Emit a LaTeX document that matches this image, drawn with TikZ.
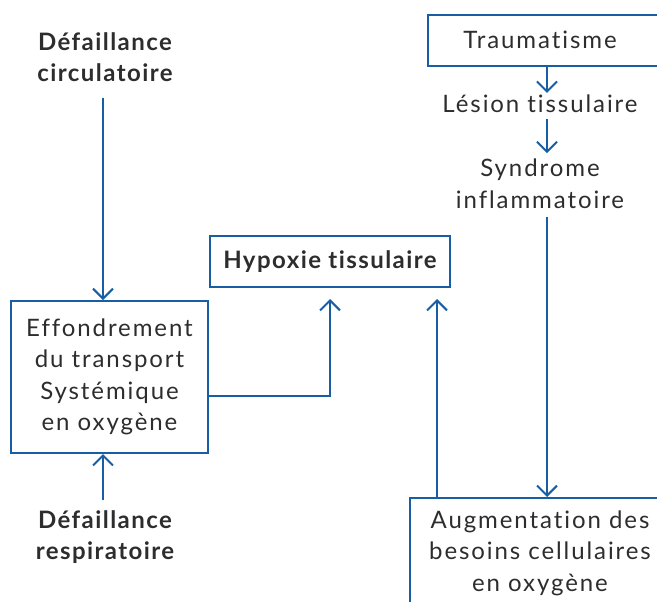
\documentclass[tikz,border=0pt]{standalone}
\usepackage{fontspec}
\setmainfont{Lato}[LetterSpace=8, Ligatures=NoCommon, BoldFeatures={LetterSpace=6}]
\usetikzlibrary{arrows.meta}
\definecolor{cblue}{RGB}{24,94,164}
\definecolor{ctext}{RGB}{45,45,45}
\begin{document}
\begin{tikzpicture}[x=1pt,y=-1pt,
  box/.style={draw=cblue, line width=2pt, inner sep=0pt},
  txt/.style={text=ctext, font=\fontsize{24}{31.5}\selectfont, align=center, inner sep=0pt},
  btxt/.style={text=ctext, font=\bfseries\fontsize{24}{31.5}\selectfont, align=center, inner sep=0pt},
  arr/.style={draw=cblue, line width=2pt, -{Straight Barb[length=10pt,width=20pt]}}]
\useasboundingbox (0,0) rectangle (657,602);
\clip (0,0) rectangle (657,602);
% coordinates for connector alignment
\coordinate (xl) at (103,0);
\coordinate (xr) at (547,0);
\coordinate (xa) at (437,0);
\coordinate (xh) at (330,0);
\coordinate (yh) at (0,396);
% nodes
\node[btxt] (dc) at (105,57) {Défaillance\\circulatoire};
\node[box, minimum width=197pt, minimum height=152pt, txt] (eff) at (109.5,377) {Effondrement\\du transport\\Systémique\\en oxygène};
\node[btxt] (dr) at (105,537) {Défaillance\\respiratoire};
\node[box, minimum width=240pt, minimum height=51pt, btxt] (hyp) at (330,261.5) {Hypoxie tissulaire};
\node[box, minimum width=260pt, minimum height=51pt, anchor=north west] (trb) at (427,14) {};
\node[txt] (tr) at (540,40) {Traumatisme};
\node[txt] (les) at (540,104) {Lésion tissulaire};
\node[txt] (syn) at (540,184) {Syndrome\\inflammatoire};
\node[box, minimum width=270pt, minimum height=130pt, anchor=north west] (augb) at (409,497) {};
\node[txt] (aug) at (540,553) {Augmentation des\\besoins cellulaires\\en oxygène};
% connectors
\draw[arr, shorten <=16pt] (dc.south -| xl) -- (eff.north -| xl);
\draw[arr, shorten <=10pt] (dr.north -| xl) -- (eff.south -| xl);
\draw[arr, shorten >=11pt] (eff.east |- yh) -| (hyp.south -| xh);
\draw[arr, shorten >=11pt] (augb.north -| xa) -- (hyp.south -| xa);
\draw[arr] (trb.south -| xr) -- ([yshift=2pt]les.north -| xr);
\draw[arr, shorten <=6pt, shorten >=6pt] (les.south -| xr) -- (syn.north -| xr);
\draw[arr, shorten <=8pt] (syn.south -| xr) -- (augb.north -| xr);
\end{tikzpicture}
\end{document}
